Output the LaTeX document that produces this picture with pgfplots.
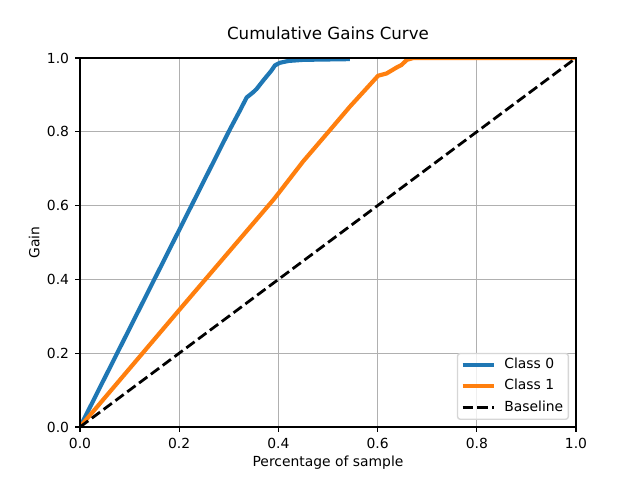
\documentclass[border=0pt]{standalone}
\usepackage{pgfplots}
\pgfplotsset{compat=1.18}
\usepackage{fontspec}
\setmainfont{DejaVu Sans}
\definecolor{c0}{HTML}{1F77B4}
\definecolor{c1}{HTML}{FF7F0E}
\definecolor{gridc}{HTML}{B0B0B0}
\definecolor{legc}{HTML}{D6D6D6}
\begin{document}
\begin{tikzpicture}[x=1pt,y=1pt]
\path[use as bounding box] (0,0) rectangle (460.8,345.6);
\begin{axis}[name=ax, at={(57.6pt,38.16pt)}, anchor=south west,
  scale only axis, width=357.12pt, height=265.68pt,
  xmin=0, xmax=1, ymin=0, ymax=1,
  xtick={0,0.2,0.4,0.6,0.8,1}, ytick={0,0.2,0.4,0.6,0.8,1},
  /pgf/number format/.cd, fixed, fixed zerofill, precision=1, assume math mode=true, /pgfplots/.cd,
  tick align=outside, xtick pos=left, ytick pos=left,
  major tick length=3.5pt,
  every tick/.style={black, line width=0.8pt},
  axis line style={line width=0.8pt},
  grid=major, grid style={gridc, line width=0.8pt},
  xticklabel style={anchor=base, yshift=-11.8pt, inner sep=0pt},
  yticklabel style={anchor=east, xshift=-4.2pt, inner sep=0pt},
  title={Cumulative Gains Curve},
  title style={at={(0.5,1)}, anchor=base, yshift=7pt, font=\fontsize{12}{14.4}\selectfont, inner sep=0pt},
  xlabel={Percentage of sample}, ylabel={Gain},
  every axis x label/.style={at={(axis description cs:0.5,0)}, anchor=base, yshift=-28.6pt, inner sep=0pt},
  every axis y label/.style={at={(axis description cs:0,0.5)}, xshift=-29.3pt, rotate=90, anchor=base, inner sep=0pt},
  legend cell align=left,
  legend image code/.code={\path[draw=none, fill=none, use as bounding box] (0pt,-1.5pt) rectangle (22.3pt,1.5pt); \draw[#1] (0pt,0pt) -- (22.3pt,0pt);},
  legend style={at={(0.986,0.019)}, anchor=south east, draw=legc, line width=1pt,
    rounded corners=2pt, fill=white, fill opacity=0.8, text opacity=1,
    inner xsep=3.7pt, inner ysep=0.6pt, row sep=0pt,
    font=\fontsize{10}{12}\selectfont,
    nodes={inner xsep=0pt, inner ysep=2.2pt, text height=8pt, text depth=3pt},
    /tikz/every odd column/.append style={column sep=7.7pt}},
]
\addplot[c0, line width=3pt, line join=round] coordinates {
(0,0)(0.302,0.806)(0.323,0.859)(0.336,0.893)(0.349,0.907)(0.356,0.916)
(0.370,0.940)(0.386,0.966)(0.393,0.980)(0.403,0.987)(0.420,0.992)
(0.450,0.995)(0.544,0.997)};
\addplot[c1, line width=3pt, line join=round] coordinates {
(0,0)(0.200,0.317)(0.390,0.616)(0.400,0.633)(0.450,0.720)(0.501,0.800)
(0.544,0.868)(0.578,0.918)(0.601,0.952)(0.618,0.958)(0.638,0.974)
(0.648,0.981)(0.659,0.995)(0.672,1.000)(1,1)};
\addplot[black, line width=2pt, dash pattern=on 7.4pt off 3.2pt] coordinates {(0,0)(1,1)};
\legend{Class 0, Class 1, Baseline}
\end{axis}
\draw[line width=0.8pt] (ax.south west) rectangle (ax.north east);
\end{tikzpicture}
\end{document}
